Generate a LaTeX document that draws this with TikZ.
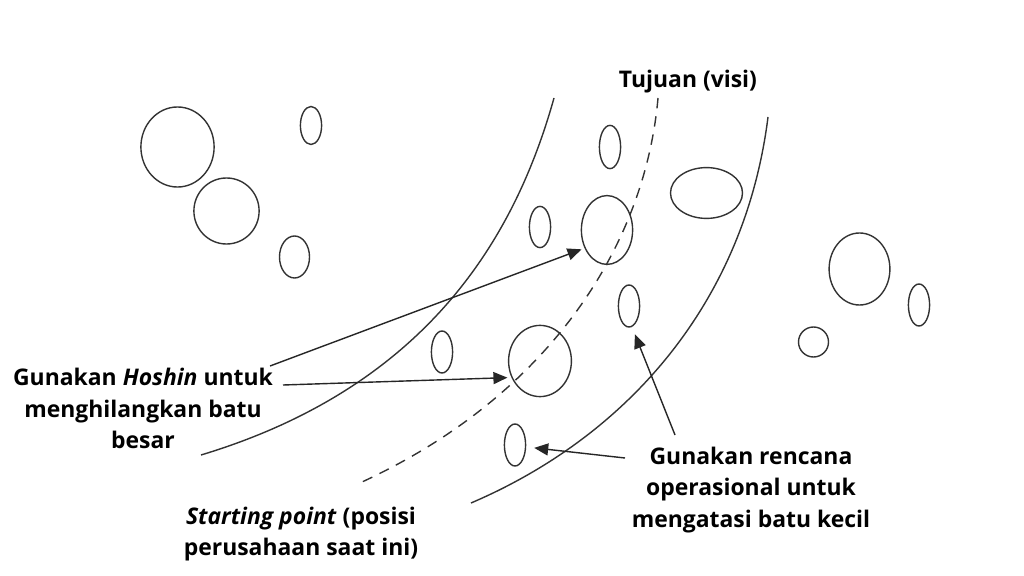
\documentclass[tikz,border=0pt]{standalone}
\usepackage{fontspec}
\setmainfont{Open Sans}
\usetikzlibrary{positioning}
\usetikzlibrary{arrows.meta}
\usetikzlibrary{shapes.geometric}
\tikzset{
  batu/.style={draw=black!80,line width=0.035cm,ellipse,inner sep=0pt},
  jalur/.style={draw=black!80,line width=0.035cm},
  panah/.style={draw=black!85,line width=0.035cm,-{Triangle[length=0.35cm,width=0.3cm]}},
  teks/.style={font=\fontsize{16.3}{22.6}\selectfont\bfseries,align=center,text=black},
}
\begin{document}
\begin{tikzpicture}[x=0.025cm,y=-0.025cm]
\useasboundingbox[fill=white] (0,0) rectangle (1024,576);
% batu besar dan kecil
\node[batu,minimum width=1.83cm,minimum height=2cm] (a1) at (177.5,147) {};
\node[batu,minimum width=1.63cm,minimum height=1.65cm] (a2) at (226.5,211) {};
\node[batu,minimum width=0.53cm,minimum height=0.95cm] (a3) at (311,125.5) {};
\node[batu,minimum width=0.75cm,minimum height=1.05cm] (a4) at (294.5,257) {};
\node[batu,minimum width=0.53cm,minimum height=1.08cm] (b1) at (610,147) {};
\node[batu,minimum width=0.53cm,minimum height=1.03cm] (b2) at (540,227) {};
\node[batu,minimum width=1.28cm,minimum height=1.72cm] (b3) at (607,230) {};
\node[batu,minimum width=1.8cm,minimum height=1.27cm] (b4) at (706.5,193) {};
\node[batu,minimum width=0.53cm,minimum height=1.05cm] (b5) at (629,306) {};
\node[batu,minimum width=0.53cm,minimum height=1.05cm] (b6) at (442,352) {};
\node[batu,minimum width=1.57cm,minimum height=1.78cm] (b7) at (540,361) {};
\node[batu,minimum width=0.53cm,minimum height=1.05cm] (b8) at (515,445) {};
\node[batu,minimum width=1.52cm,minimum height=1.8cm] (c1) at (859.5,269) {};
\node[batu,minimum width=0.53cm,minimum height=1.05cm] (c2) at (919,305) {};
\node[batu,minimum width=0.75cm,minimum height=0.75cm] (c3) at (813.5,342) {};
% jalur
\draw[jalur] (554,98) .. controls (517,230) and (433,385) .. (201,455);
\draw[jalur,dash pattern=on 0.26cm off 0.2cm] (658,98) .. controls (645,245) and (550,395) .. (362,482);
\draw[jalur] (768,117) .. controls (745,300) and (630,435) .. (471,503);
% teks
\node[teks] (tujuan) at (688,81.5) {Tujuan (visi)};
\node[teks] (hoshin) at (143,408.5) {Gunakan \textit{Hoshin} untuk\\menghilangkan batu\\besar};
\node[teks] (rencana) at (751,490) {Gunakan rencana\\operasional untuk\\mengatasi batu kecil};
\node[teks] (start) at (301,534) {\textit{Starting point} (posisi\\perusahaan saat ini)};
% panah
\coordinate (h1) at (270,366);
\coordinate (h2) at (283,385);
\coordinate (r1) at (675,435);
\coordinate (r2) at (625,458);
\draw[panah,shorten >=0.08cm] (h1) -- (b3.219);
\draw[panah,shorten >=0.1cm] (h2) -- (b7.210);
\draw[panah,shorten >=0.2cm] (r1) -- (b5.278);
\draw[panah,shorten >=0.2cm] (r2) -- (b8.-10);
\end{tikzpicture}
\end{document}
